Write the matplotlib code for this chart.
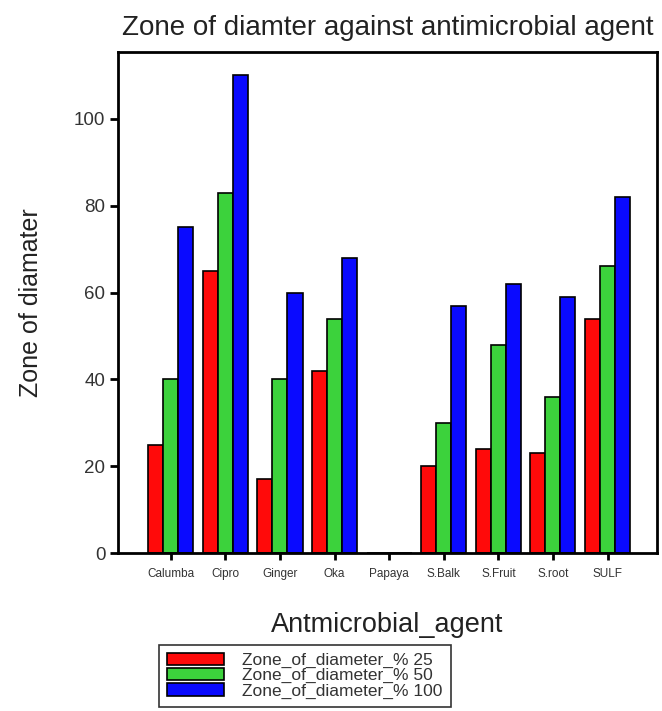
import numpy as np
import matplotlib
matplotlib.use("Agg")
import matplotlib.pyplot as plt

plt.rcParams['font.family'] = ['Liberation Sans', 'DejaVu Sans']

agents = ["Calumba", "Cipro", "Ginger", "Oka", "Papaya", "S.Balk", "S.Fruit", "S.root", "SULF"]
zone_25 = [25, 65, 17, 42, 0, 20, 24, 23, 54]
zone_50 = [40, 83, 40, 54, 0, 30, 48, 36, 66]
zone_100 = [75, 110, 60, 68, 0, 57, 62, 59, 82]
series_labels = ["Zone_of_diameter_% 25", "Zone_of_diameter_% 50", "Zone_of_diameter_% 100"]
colors = ["#ff0a0a", "#3cd23c", "#0a0aff"]

fig = plt.figure(figsize=(6.62, 7.11), dpi=100)
ax = fig.add_axes([0.178, 0.222, 0.814, 0.705])

x = np.arange(len(agents))
w = 0.275
handles = []
for i, (vals, lab, c) in enumerate(zip([zone_25, zone_50, zone_100], series_labels, colors)):
    b = ax.bar(x + (i - 1) * w, vals, w, color=c, edgecolor="black", linewidth=1.2, label=lab)
    handles.append(b)

ax.set_xlim(-0.97, 8.9)
ax.set_ylim(0, 115.4)
ax.set_yticks([0, 20, 40, 60, 80, 100])
ax.set_xticks(x)
ax.set_xticklabels(agents, fontsize=8.5, color="#333333")
ax.tick_params(axis="y", labelsize=13.5, labelcolor="#333333", width=2, length=6, direction="out", pad=3)
ax.tick_params(axis="x", width=2, length=5, direction="out", pad=6)
for s in ax.spines.values():
    s.set_linewidth(2)

ax.set_title("Zone of diamter against antimicrobial agent", fontsize=20, color="#222222", pad=12)
ax.set_ylabel("Zone of diamater", fontsize=18, color="#222222", labelpad=22)
ax.set_xlabel("Antmicrobial_agent", fontsize=19.5, color="#222222", labelpad=23)

leg = fig.legend(handles=handles, labels=series_labels, loc="upper left",
                 bbox_to_anchor=(159 / 662, 1 - 645 / 711), fontsize=12.5,
                 frameon=True, fancybox=False, edgecolor="black", handlelength=3.3,
                 handleheight=0.7, labelspacing=0.0, borderpad=0.45, handletextpad=1.05,
                 borderaxespad=0)
leg.get_frame().set_linewidth(1.2)
for t in leg.get_texts():
    t.set_color("#333333")

fig.savefig("out.png", dpi=100)
